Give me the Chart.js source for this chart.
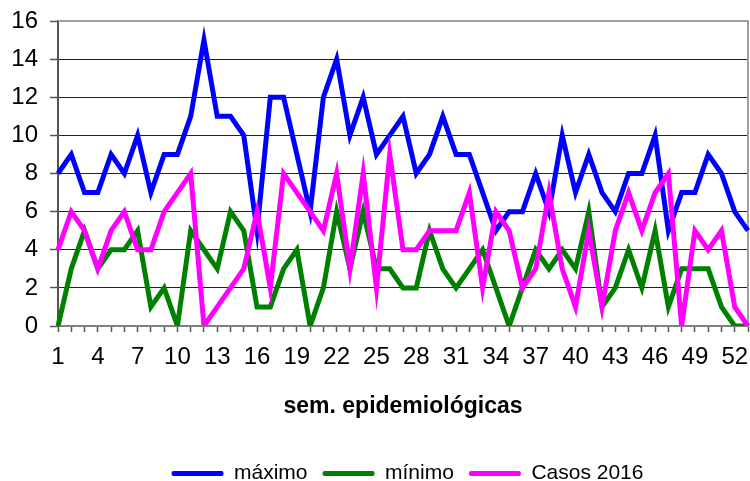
<!DOCTYPE html>
<html>
<head>
<meta charset="utf-8">
<script src="https://cdn.jsdelivr.net/npm/chart.js@4/dist/chart.umd.min.js"></script>
<style>
  html, body { margin: 0; padding: 0; background: #fff; }
</style>
</head>
<body>
<canvas id="chart" width="750" height="481"></canvas>
<script>
// semanas epidemiológicas (53 en el año)
const weeks = [1, 2, 3, 4, 5, 6, 7, 8, 9, 10, 11, 12, 13, 14, 15, 16, 17, 18, 19, 20,
    21, 22, 23, 24, 25, 26, 27, 28, 29, 30, 31, 32, 33, 34, 35, 36, 37, 38, 39, 40,
    41, 42, 43, 44, 45, 46, 47, 48, 49, 50, 51, 52, 53];
const shownWeeks = [1, 4, 7, 10, 13, 16, 19, 22, 25, 28, 31, 34, 37, 40, 43, 46, 49, 52];

const maximo = [8, 9, 7, 7, 9, 8, 10, 7, 9, 9, 11, 15, 11, 11, 10, 5, 12, 12, 9, 6,
    12, 14, 10, 12, 9, 10, 11, 8, 9, 11, 9, 9, 7, 5, 6, 6, 8, 6, 10, 7,
    9, 7, 6, 8, 8, 10, 5, 7, 7, 9, 8, 6, 5];
const minimo = [0, 3, 5, 3, 4, 4, 5, 1, 2, 0, 5, 4, 3, 6, 5, 1, 1, 3, 4, 0,
    2, 6, 3, 6, 3, 3, 2, 2, 5, 3, 2, 3, 4, 2, 0, 2, 4, 3, 4, 3,
    6, 1, 2, 4, 2, 5, 1, 3, 3, 3, 1, 0, 0];
const casos2016 = [4, 6, 5, 3, 5, 6, 4, 4, 6, 7, 8, 0, 1, 2, 3, 6, 2, 8, 7, 6,
    5, 8, 3, 8, 2, 9, 4, 4, 5, 5, 5, 7, 2, 6, 5, 2, 3, 7, 3, 1,
    5, 1, 5, 7, 5, 7, 8, 0, 5, 4, 5, 1, 0];

const yTicks = [0, 2, 4, 6, 8, 10, 12, 14, 16];

const FONT = "'Liberation Sans', Arial, sans-serif";

// gray frame on top and right side of the plot area
const framePlugin = {
    id: 'frame',
    afterLayout(chart) {
        // legend sits a bit right of the canvas centre in the original
        chart.legend.left += 28;
        chart.legend.right += 28;
    },
    beforeDatasetsDraw(chart) {
        const { ctx, chartArea: a } = chart;
        ctx.save();
        ctx.strokeStyle = '#a0a0a0';
        ctx.lineWidth = 2;
        ctx.beginPath();
        ctx.moveTo(a.left, a.top);
        ctx.lineTo(a.right, a.top);
        ctx.lineTo(a.right, a.bottom);
        ctx.stroke();
        ctx.restore();
    }
};

function noEdgePadding(scale) {
    scale.paddingTop = 0;
    scale.paddingBottom = 0;
    scale.paddingLeft = 0;
    scale.paddingRight = 0;
}

const ctx = document.getElementById('chart').getContext('2d');

new Chart(ctx, {
    type: 'line',
    data: {
        labels: weeks,
        datasets: [{
            label: 'máximo',
            data: maximo,
            borderColor: '#0000ff',
            backgroundColor: '#0000ff',
            borderWidth: 5,
            pointRadius: 0,
            order: 3
        }, {
            label: 'mínimo',
            data: minimo,
            borderColor: '#008000',
            backgroundColor: '#008000',
            borderWidth: 5,
            pointRadius: 0,
            order: 2
        }, {
            label: 'Casos 2016',
            data: casos2016,
            borderColor: '#ff00ff',
            backgroundColor: '#ff00ff',
            borderWidth: 5,
            pointRadius: 0,
            order: 1
        }]
    },
    options: {
        responsive: false,
        animation: false,
        layout: {
            autoPadding: false,
            padding: { top: 21, left: 11, right: 2, bottom: -13 }
        },
        scales: {
            x: {
                afterFit: function(scale) {
                    scale.height = 122;
                    noEdgePadding(scale);
                },
                ticks: {
                    autoSkip: false,
                    maxRotation: 0,
                    padding: 11,
                    color: '#000',
                    font: { family: FONT, size: 24 },
                    callback: function(value, index) {
                        const w = weeks[index];
                        return shownWeeks.includes(w) ? String(w) : '';
                    }
                },
                grid: {
                    drawOnChartArea: false,
                    tickLength: 6,
                    tickColor: '#555',
                    tickWidth: 1.5
                },
                border: { color: '#808080', width: 2 },
                title: {
                    display: true,
                    text: 'sem. epidemiológicas',
                    color: '#000',
                    font: { family: FONT, size: 23, weight: 'bold' },
                    padding: { top: 20, bottom: 28 }
                }
            },
            y: {
                min: 0,
                max: 16,
                afterFit: function(scale) {
                    scale.width = 47;
                    noEdgePadding(scale);
                },
                afterBuildTicks: function(scale) {
                    scale.ticks = yTicks.map(v => ({ value: v }));
                },
                ticks: {
                    padding: 12,
                    color: '#000',
                    font: { family: FONT, size: 24 }
                },
                grid: {
                    color: '#222',
                    lineWidth: 1,
                    borderDash: [2, 2],
                    tickLength: 8,
                    tickColor: '#555',
                    tickBorderDash: [],
                    tickWidth: 1.5
                },
                border: { color: '#555', width: 2 }
            }
        },
        plugins: {
            legend: {
                position: 'bottom',
                labels: {
                    boxWidth: 52,
                    boxHeight: 5,
                    padding: 15,
                    color: '#000',
                    font: { family: FONT, size: 21 },
                    sort: (a, b) => a.datasetIndex - b.datasetIndex,
                    generateLabels: function(chart) {
                        const items = Chart.defaults.plugins.legend.labels.generateLabels(chart);
                        items.forEach(it => {
                            it.lineWidth = 0;
                            it.fillStyle = it.strokeStyle;
                            it.borderRadius = 2;
                        });
                        return items;
                    }
                }
            },
            tooltip: { enabled: false }
        }
    },
    plugins: [framePlugin]
});
</script>
</body>
</html>
